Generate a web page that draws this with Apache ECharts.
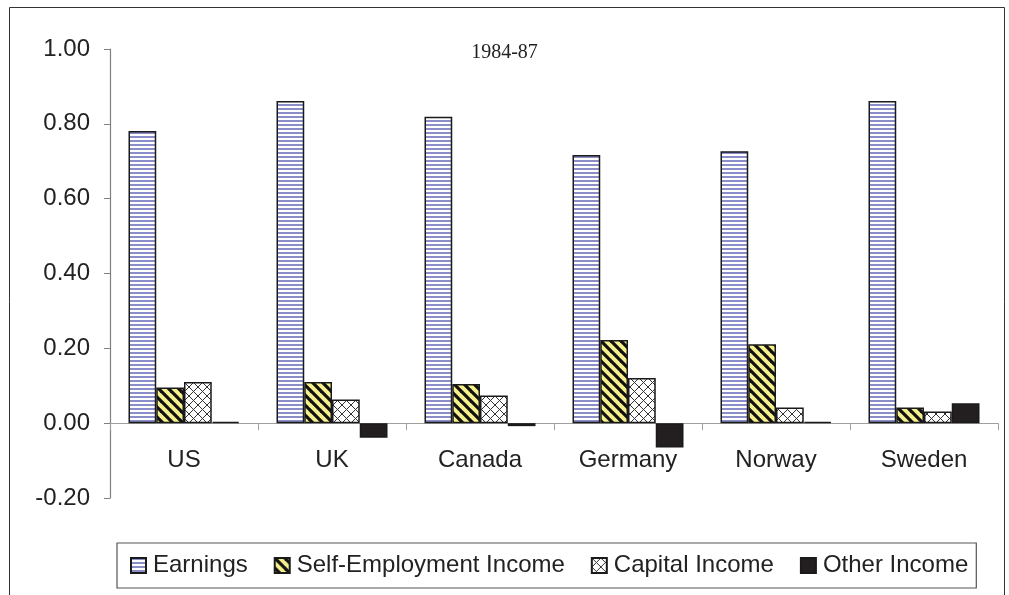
<!DOCTYPE html>
<html>
<head>
<meta charset="utf-8">
<script src="https://cdn.jsdelivr.net/npm/echarts/dist/echarts.min.js"></script>
<style>
html,body{margin:0;padding:0;background:#fff;}
#chart{width:1009px;height:595px;}
</style>
</head>
<body>
<div id="chart"></div>
<script>
const categories = ['US', 'UK', 'Canada', 'Germany', 'Norway', 'Sweden'];
const earnings = [0.781, 0.861, 0.819, 0.717, 0.727, 0.861];
const selfEmployment = [0.095, 0.110, 0.105, 0.222, 0.211, 0.042];
const capitalIncome = [0.110, 0.063, 0.074, 0.121, 0.042, 0.031];
const otherIncome = [0.004, -0.039, -0.008, -0.065, 0.003, 0.053];
const seriesNames = ['Earnings', 'Self-Employment Income', 'Capital Income', 'Other Income'];
const yTicks = { min: -0.2, max: 1.0, interval: 0.2 };
const titleText = '1984-87';

function makeCanvas(w, h) {
  const c = document.createElement('canvas');
  c.width = w; c.height = h;
  return c;
}
function stripePattern() {
  const c = makeCanvas(4, 4);
  const g = c.getContext('2d');
  g.fillStyle = '#ffffff'; g.fillRect(0, 0, 4, 4);
  g.fillStyle = '#8a8dc8'; g.fillRect(0, 0, 4, 2);
  return c;
}
function diagPattern() {
  const P = 10;
  const c = makeCanvas(P, P);
  const g = c.getContext('2d');
  g.fillStyle = '#f5f08c'; g.fillRect(0, 0, P, P);
  g.strokeStyle = '#111'; g.lineWidth = 3.2;
  [-P, 0, P].forEach(function (o) {
    g.beginPath(); g.moveTo(-2, o - 2); g.lineTo(P + 2, o + P + 2); g.stroke();
  });
  return c;
}
function crossPattern() {
  const P = 9;
  const c = makeCanvas(P, P);
  const g = c.getContext('2d');
  g.fillStyle = '#ffffff'; g.fillRect(0, 0, P, P);
  g.strokeStyle = '#333'; g.lineWidth = 1;
  [-P, 0, P].forEach(function (o) {
    g.beginPath(); g.moveTo(-2, o - 2); g.lineTo(P + 2, o + P + 2); g.stroke();
    g.beginPath(); g.moveTo(-2, P - o + 2); g.lineTo(P + 2, -o - 2); g.stroke();
  });
  return c;
}

const fills = [
  { image: stripePattern(), repeat: 'repeat' },
  { image: diagPattern(), repeat: 'repeat' },
  { image: crossPattern(), repeat: 'repeat' },
  '#231f20'
];
const dataSets = [earnings, selfEmployment, capitalIncome, otherIncome];

const chart = echarts.init(document.getElementById('chart'), null, { renderer: 'canvas' });
const option = {
  backgroundColor: '#ffffff',
  animation: false,
  title: {
    text: titleText,
    left: 'center',
    top: 38,
    textStyle: { fontFamily: 'Liberation Serif', fontSize: 20, fontWeight: 'normal', color: '#222' }
  },
  graphic: [{
    type: 'polyline',
    shape: { points: [[9.5, 600], [9.5, 7.5], [1004.5, 7.5], [1004.5, 600]] },
    style: { stroke: '#333', lineWidth: 1, fill: null },
    silent: true
  }],
  legend: {
    left: 117,
    top: 543,
    orient: 'horizontal',
    padding: [9, 8, 9, 13],
    itemGap: 26,
    itemWidth: 15,
    itemHeight: 15,
    icon: 'rect',
    borderColor: '#555',
    borderWidth: 1.2,
    textStyle: { fontFamily: 'Liberation Sans', fontSize: 24, color: '#222', lineHeight: 27, padding: [0, 0, 0, 2] },
    data: seriesNames
  },
  grid: { left: 110, right: 11, top: 49, bottom: 97, containLabel: false },
  xAxis: {
    type: 'category',
    data: categories,
    axisLine: { onZero: true, lineStyle: { color: '#a0a0a0', width: 1.2 } },
    axisTick: { show: true, length: 7, lineStyle: { color: '#a0a0a0' } },
    axisLabel: { fontFamily: 'Liberation Sans', fontSize: 24, color: '#222', margin: -50, interval: 0 }
  },
  yAxis: {
    type: 'value',
    min: yTicks.min,
    max: yTicks.max,
    interval: yTicks.interval,
    splitLine: { show: false },
    axisLine: { show: true, lineStyle: { color: '#808080', width: 1.2 } },
    axisTick: { show: true, length: 6, lineStyle: { color: '#808080' } },
    axisLabel: {
      fontFamily: 'Liberation Sans', fontSize: 24, color: '#222', margin: 20,
      formatter: function (v) { return v.toFixed(2); }
    }
  },
  series: seriesNames.map(function (name, i) {
    return {
      name: name,
      type: 'bar',
      data: dataSets[i],
      barGap: '0%',
      barCategoryGap: '25%',
      itemStyle: { color: fills[i], borderColor: '#1a1a1a', borderWidth: 1.5 }
    };
  })
};
chart.setOption(option);
</script>
</body>
</html>
